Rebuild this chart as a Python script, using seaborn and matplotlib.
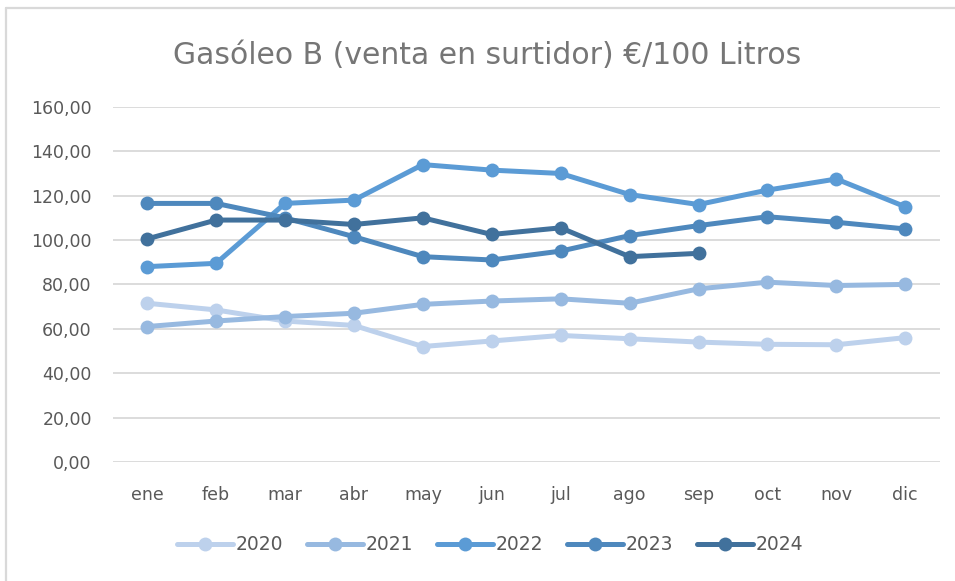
import numpy as np
import pandas as pd
import matplotlib
matplotlib.use("Agg")
import matplotlib.pyplot as plt
from matplotlib.lines import Line2D
import seaborn as sns

months = ["ene", "feb", "mar", "abr", "may", "jun", "jul", "ago", "sep", "oct", "nov", "dic"]
years = ["2020", "2021", "2022", "2023", "2024"]
v2020 = [71.5, 68.5, 63.5, 61.5, 52.0, 54.5, 57.0, 55.5, 54.0, 53.0, 52.8, 56.0]
v2021 = [61.0, 63.5, 65.5, 67.0, 71.0, 72.5, 73.5, 71.5, 78.0, 81.0, 79.5, 80.0]
v2022 = [88.0, 89.5, 116.5, 118.0, 134.0, 131.5, 130.0, 120.5, 116.0, 122.5, 127.5, 115.0]
v2023 = [116.5, 116.5, 110.0, 101.5, 92.5, 91.0, 95.0, 102.0, 106.5, 110.5, 108.0, 105.0]
v2024 = [100.5, 109.0, 109.0, 107.0, 110.0, 102.5, 105.5, 92.5, 94.0]
colors = ["#BDD1EC", "#97B9E0", "#5B9BD5", "#4E88BD", "#41719C"]

series = [v2020, v2021, v2022, v2023, v2024]
rows = []
for y, vals in zip(years, series):
    for i, v in enumerate(vals):
        rows.append({"mes": i, "valor": v, "año": y})
df = pd.DataFrame(rows)

sns.set_theme(style="white")
plt.rcParams["font.family"] = ["DejaVu Sans"]

W, H = 955, 581
fig = plt.figure(figsize=(W / 100, H / 100), dpi=100)
ax = fig.add_axes([0.118, 0.205, 0.866, 0.611])

sns.lineplot(data=df, x="mes", y="valor", hue="año", palette=colors,
             marker="o", markersize=10, markeredgewidth=0, linewidth=3.6,
             ax=ax, legend=True, sort=False)

ax.set_xlim(-0.5, 11.5)
ax.set_ylim(0, 160)
ax.set_yticks(np.arange(0, 161, 20))
ax.set_yticklabels([f"{v:.2f}".replace(".", ",") for v in np.arange(0, 161, 20)])
ax.set_xticks(range(12))
ax.set_xticklabels(months)
ax.tick_params(axis="both", colors="#595959", labelsize=12.5, length=0)
ax.tick_params(axis="y", pad=15)
ax.tick_params(axis="x", pad=17)
ax.yaxis.grid(True, color="#D9D9D9", linewidth=1.3)
ax.set_axisbelow(True)
for s in ax.spines.values():
    s.set_visible(False)
ax.set_xlabel("")
ax.set_ylabel("")

fig.text(487 / W, 1 - 55 / H, "Gasóleo B (venta en surtidor) €/100 Litros", ha="center", va="center",
         fontsize=21.5, color="#767676")

# chart-area border (only top and left visible in the reference)
fig.add_artist(Line2D([6 / W, 6 / W], [0, 1 - 8 / H], transform=fig.transFigure,
                      color="#D9D9D9", linewidth=1.6))
fig.add_artist(Line2D([6 / W, 1], [1 - 8 / H, 1 - 8 / H], transform=fig.transFigure,
                      color="#D9D9D9", linewidth=1.6))

h, l = ax.get_legend_handles_labels()
ax.legend(h, l, loc="center", bbox_to_anchor=(490 / W, 1 - 545 / H), bbox_transform=fig.transFigure,
          ncol=5, frameon=False, fontsize=13.5, labelcolor="#595959",
          handlelength=3.0, columnspacing=1.3, handletextpad=0.1)

fig.savefig("out.png", dpi=100)
